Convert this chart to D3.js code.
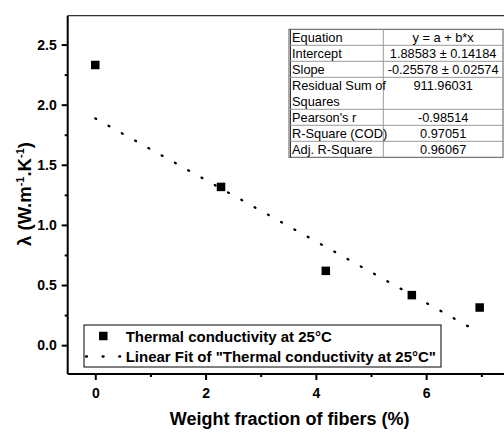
<!DOCTYPE html>
<html>
<head>
<meta charset="utf-8">
<script src="https://cdn.jsdelivr.net/npm/d3@7"></script>
<style>
  body { margin: 0; background: #fff; }
  text { font-family: "Liberation Sans", Arial, sans-serif; }
</style>
</head>
<body>
<script>
// values
const fractions = [0, 2.28, 4.18, 5.74, 6.97]
const conductivity = [2.33, 1.316, 0.618, 0.416, 0.313]
const fitX = [0, 6.8]
const fitY = [1.886, 0.147]
const xTicks = [0, 2, 4, 6]
const xMinor = [1, 3, 5, 7]
const yTicks = [0, 0.5, 1, 1.5, 2, 2.5]
const yMinor = [0.25, 0.75, 1.25, 1.75, 2.25]
const tableRows = [
  ['Equation', 'y = a + b*x'],
  ['Intercept', '1.88583 \u00b1 0.14184'],
  ['Slope', '-0.25578 \u00b1 0.02574'],
  ['Residual Sum of|Squares', '911.96031'],
  ["Pearson's r", '-0.98514'],
  ['R-Square (COD)', '0.97051'],
  ['Adj. R-Square', '0.96067']
]
const legendLabels = ['Thermal conductivity at 25\u00b0C', 'Linear Fit of "Thermal conductivity at 25\u00b0C"']

const width = 504
const height = 433
const margin = { top: 15.7, left: 67.7, bottom: 374 }

const svg = d3.select('body').append('svg')
  .attr('width', width)
  .attr('height', height)

const x = d3.scaleLinear().domain([-0.5, 7.5]).range([margin.left, margin.left + 8 * 55.15])
const y = d3.scaleLinear().domain([-0.24, 2.74]).range([margin.bottom, margin.top])

// frame top line
svg.append('line')
  .attr('x1', margin.left).attr('x2', width + 5)
  .attr('y1', margin.top).attr('y2', margin.top)
  .attr('stroke', '#333').attr('stroke-width', 1.2)

// axes
const xAxis = svg.append('g')
  .attr('transform', `translate(0,${margin.bottom})`)
  .call(d3.axisBottom(x).tickValues(xTicks).tickSize(6).tickFormat(d3.format('d')))
const xAxisMinor = svg.append('g')
  .attr('transform', `translate(0,${margin.bottom})`)
  .call(d3.axisBottom(x).tickValues(xMinor).tickSize(3).tickFormat(''))
const yAxis = svg.append('g')
  .attr('transform', `translate(${margin.left},0)`)
  .call(d3.axisLeft(y).tickValues(yTicks).tickSize(6).tickFormat(d3.format('.1f')))
const yAxisMinor = svg.append('g')
  .attr('transform', `translate(${margin.left},0)`)
  .call(d3.axisLeft(y).tickValues(yMinor).tickSize(3).tickFormat(''))

;[xAxis, xAxisMinor, yAxis, yAxisMinor].forEach(g => {
  g.select('.domain').attr('stroke', '#000').attr('stroke-width', 2)
  g.selectAll('.tick line').attr('stroke', '#000').attr('stroke-width', 2)
  g.selectAll('.tick text')
    .attr('fill', '#000')
    .style('font-size', '14px')
    .style('font-weight', 'bold')
})
xAxis.select('.domain').attr('d', `M${margin.left},0H${width + 5}`)
xAxisMinor.select('.domain').remove()
yAxisMinor.select('.domain').remove()
yAxis.select('.domain').attr('d', `M0,${margin.top}V${margin.bottom}`)
xAxis.selectAll('.tick text').attr('dy', '1.05em')
yAxis.selectAll('.tick text').attr('x', -11)

// axis titles
svg.append('text')
  .attr('x', 289.7).attr('y', 424.5)
  .attr('text-anchor', 'middle')
  .style('font-size', '18px').style('font-weight', 'bold')
  .text('Weight fraction of fibers (%)')

const yTitle = svg.append('text')
  .attr('transform', 'translate(31,194) rotate(-90)')
  .attr('text-anchor', 'middle')
  .style('font-size', '18.5px').style('font-weight', 'bold')
yTitle.append('tspan').text('\u03bb (W.m')
yTitle.append('tspan').attr('dy', -7).style('font-size', '11px').text('-1')
yTitle.append('tspan').attr('dy', 7).text('.K')
yTitle.append('tspan').attr('dy', -7).style('font-size', '11px').text('-1')
yTitle.append('tspan').attr('dy', 7).text(')')

// linear fit
const fitPts = fitX.map((d, i) => [d, fitY[i]])
svg.append('path')
  .attr('d', d3.line().x(d => x(d[0])).y(d => y(d[1]))(fitPts))
  .attr('fill', 'none')
  .attr('stroke', '#000')
  .attr('stroke-width', 2.3)
  .attr('stroke-linecap', 'round')
  .attr('stroke-dasharray', '1 14.2')

// data squares
const sq = 8.5
svg.selectAll('.pt').data(fractions.map((d, i) => [d, conductivity[i]]))
  .enter().append('rect')
  .attr('class', 'pt')
  .attr('x', d => x(d[0]) - sq / 2)
  .attr('y', d => y(d[1]) - sq / 2)
  .attr('width', sq).attr('height', sq)
  .attr('fill', '#000')

// legend
const legend = svg.append('g')
legend.append('rect')
  .attr('x', 84).attr('y', 325).attr('width', 357).attr('height', 42)
  .attr('fill', '#fff').attr('stroke', '#000').attr('stroke-width', 1)
legend.append('rect')
  .attr('x', 103.3 - sq / 2).attr('y', 336 - sq / 2).attr('width', sq).attr('height', sq)
  .attr('fill', '#000')
legend.append('line')
  .attr('x1', 86).attr('x2', 121).attr('y1', 356.5).attr('y2', 356.5)
  .attr('stroke', '#000').attr('stroke-width', 2.3)
  .attr('stroke-linecap', 'round').attr('stroke-dasharray', '1 15.6')
legend.selectAll('.lg').data(legendLabels)
  .enter().append('text')
  .attr('x', 125.7)
  .attr('y', (d, i) => 341.5 + i * 20.5)
  .style('font-size', '15px').style('font-weight', 'bold')
  .text(d => d)

// stats table
const tbl = { x: 289, y: 29.3, split: 383.3, right: 503, row: 16 }
const table = svg.append('g')
let rowY = tbl.y
const rowPos = tableRows.map(r => {
  const lines = r[0].split('|').length
  const p = { top: rowY, h: lines * tbl.row, lines: r[0].split('|'), value: r[1] }
  rowY += p.h
  return p
})
table.append('rect')
  .attr('x', tbl.x).attr('y', tbl.y)
  .attr('width', tbl.right - tbl.x).attr('height', rowY - tbl.y)
  .attr('fill', '#fff').attr('stroke', '#555').attr('stroke-width', 1)
table.append('line')
  .attr('x1', tbl.x + 1.5).attr('x2', tbl.x + 1.5).attr('y1', tbl.y).attr('y2', rowY)
  .attr('stroke', '#333').attr('stroke-width', 1)
table.append('line')
  .attr('x1', tbl.split).attr('x2', tbl.split).attr('y1', tbl.y).attr('y2', rowY)
  .attr('stroke', '#999').attr('stroke-width', 1)
table.selectAll('.sep').data(rowPos.slice(1))
  .enter().append('line')
  .attr('x1', tbl.x).attr('x2', tbl.right)
  .attr('y1', d => d.top).attr('y2', d => d.top)
  .attr('stroke', '#999').attr('stroke-width', 1)
rowPos.forEach(p => {
  p.lines.forEach((l, i) => {
    table.append('text')
      .attr('x', tbl.x + 3).attr('y', p.top + tbl.row / 2 + i * tbl.row)
      .attr('dy', '0.36em')
      .style('font-size', '12.8px')
      .text(l)
  })
  table.append('text')
    .attr('x', (tbl.split + tbl.right) / 2).attr('y', p.top + tbl.row / 2)
    .attr('dy', '0.36em')
    .attr('text-anchor', 'middle')
    .style('font-size', '12.8px')
    .text(p.value)
})
</script>
</body>
</html>
